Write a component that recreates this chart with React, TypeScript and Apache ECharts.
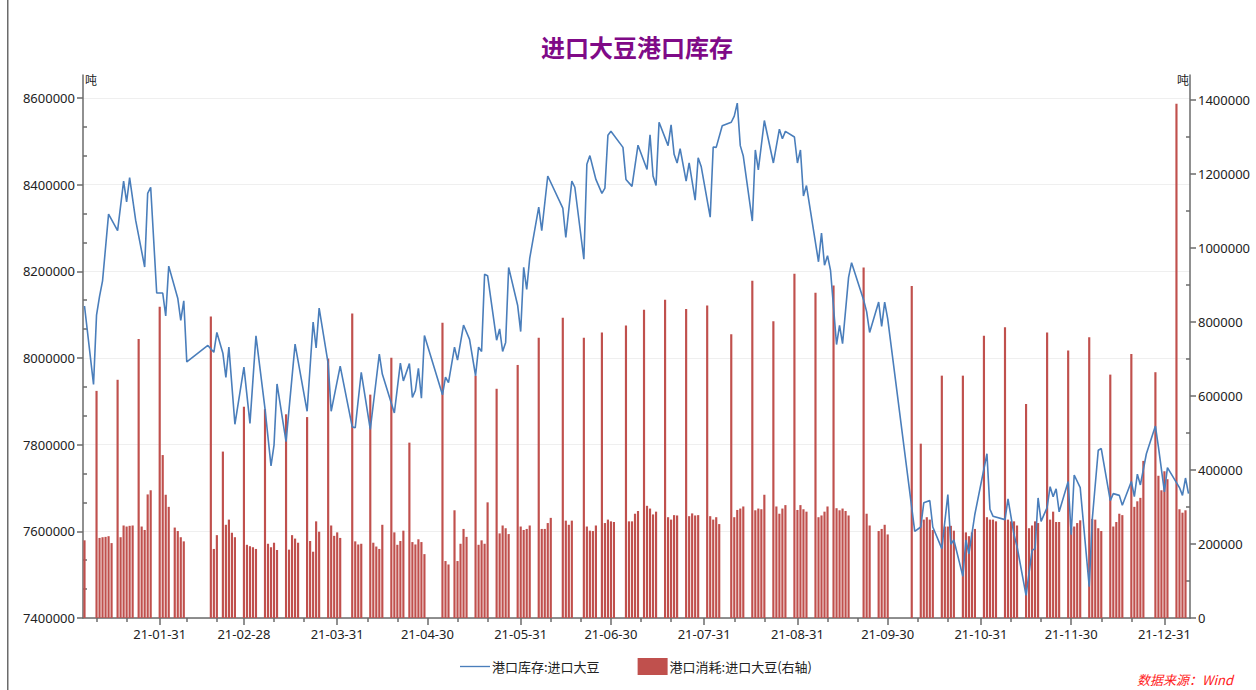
import React, { useEffect, useRef } from "react";
import * as echarts from "echarts";

// ---------- data ----------
const firstDay = "2021-01-06";
const lastDay = "2022-01-08";

const chartTitle = "进口大豆港口库存";
const stockName = "港口库存:进口大豆";
const useName = "港口消耗:进口大豆(右轴)";
const unitLabel = "吨";
const sourceLabel = "数据来源：Wind";

const leftTicks = [7400000, 7600000, 7800000, 8000000, 8200000, 8400000, 8600000];
const rightTicks = [0, 200000, 400000, 600000, 800000, 1000000, 1200000, 1400000];

const stockDates = [
  "2021-01-06","2021-01-09","2021-01-10","2021-01-11","2021-01-12","2021-01-14","2021-01-17","2021-01-19","2021-01-20","2021-01-21",
  "2021-01-23","2021-01-26","2021-01-27","2021-01-28","2021-01-30","2021-02-01","2021-02-02","2021-02-03","2021-02-06","2021-02-07",
  "2021-02-08","2021-02-09","2021-02-16","2021-02-18","2021-02-19","2021-02-21","2021-02-22","2021-02-23","2021-02-25","2021-02-28",
  "2021-03-02","2021-03-04","2021-03-07","2021-03-09","2021-03-10","2021-03-11","2021-03-14","2021-03-17","2021-03-21","2021-03-23",
  "2021-03-24","2021-03-25","2021-03-28","2021-03-29","2021-04-01","2021-04-05","2021-04-06","2021-04-08","2021-04-11","2021-04-14",
  "2021-04-15","2021-04-19","2021-04-21","2021-04-22","2021-04-24","2021-04-25","2021-04-26","2021-04-27","2021-04-28","2021-04-29",
  "2021-05-05","2021-05-06","2021-05-07","2021-05-09","2021-05-10","2021-05-12","2021-05-14","2021-05-16","2021-05-17","2021-05-18",
  "2021-05-19","2021-05-20","2021-05-23","2021-05-24","2021-05-25","2021-05-26","2021-05-27","2021-05-30","2021-05-31","2021-06-01",
  "2021-06-02","2021-06-03","2021-06-06","2021-06-07","2021-06-09","2021-06-14","2021-06-15","2021-06-17","2021-06-18","2021-06-21",
  "2021-06-22","2021-06-23","2021-06-25","2021-06-27","2021-06-28","2021-06-29","2021-06-30","2021-07-04","2021-07-05","2021-07-07",
  "2021-07-09","2021-07-12","2021-07-13","2021-07-14","2021-07-15","2021-07-16","2021-07-19","2021-07-20","2021-07-21","2021-07-22",
  "2021-07-23","2021-07-25","2021-07-26","2021-07-28","2021-07-29","2021-07-30","2021-08-02","2021-08-03","2021-08-04","2021-08-06",
  "2021-08-09","2021-08-10","2021-08-11","2021-08-12","2021-08-13","2021-08-16","2021-08-17","2021-08-18","2021-08-20","2021-08-23",
  "2021-08-25","2021-08-26","2021-08-27","2021-08-30","2021-08-31","2021-09-01","2021-09-02","2021-09-03","2021-09-07","2021-09-08",
  "2021-09-09","2021-09-10","2021-09-11","2021-09-13","2021-09-14","2021-09-15","2021-09-17","2021-09-18","2021-09-22","2021-09-23",
  "2021-09-24","2021-09-27","2021-09-28","2021-09-29","2021-09-30","2021-10-09","2021-10-11","2021-10-12","2021-10-14","2021-10-15",
  "2021-10-18","2021-10-20","2021-10-21","2021-10-22","2021-10-25","2021-10-26","2021-10-27","2021-10-29","2021-11-02","2021-11-03",
  "2021-11-04","2021-11-08","2021-11-09","2021-11-11","2021-11-12","2021-11-15","2021-11-17","2021-11-18","2021-11-19","2021-11-20",
  "2021-11-22","2021-11-23","2021-11-24","2021-11-25","2021-11-26","2021-11-29","2021-11-30","2021-12-01","2021-12-03","2021-12-06",
  "2021-12-07","2021-12-09","2021-12-10","2021-12-13","2021-12-14","2021-12-16","2021-12-17","2021-12-20","2021-12-21","2021-12-22",
  "2021-12-23","2021-12-25","2021-12-28","2021-12-29","2021-12-31","2022-01-01","2022-01-05","2022-01-06","2022-01-07","2022-01-08"
];
const stockValues = [
  8120000,7939000,8099000,8142000,8178000,8332000,8294000,8408000,8360000,8416000,
  8318000,8210000,8380000,8394000,8150000,8150000,8097000,8212000,8138000,8087000,
  8132000,7991000,8029000,8013000,8059000,8011000,7955000,8025000,7847000,7979000,
  7849000,8051000,7883000,7751000,7799000,7940000,7807000,8032000,7877000,8083000,
  8023000,8115000,7987000,7877000,7981000,7841000,7839000,7967000,7835000,8009000,
  7963000,7873000,7988000,7947000,7987000,7909000,7925000,7976000,7907000,8052000,
  7915000,7956000,7943000,8025000,7995000,8076000,8043000,7959000,8025000,8015000,
  8193000,8190000,8041000,8067000,8015000,8036000,8209000,8121000,8061000,8209000,
  8158000,8230000,8348000,8294000,8420000,8346000,8278000,8408000,8394000,8228000,
  8447000,8467000,8412000,8380000,8392000,8514000,8523000,8486000,8412000,8396000,
  8491000,8435000,8515000,8420000,8398000,8544000,8490000,8538000,8470000,8450000,
  8483000,8408000,8450000,8364000,8462000,8442000,8325000,8487000,8486000,8536000,
  8544000,8558000,8588000,8490000,8466000,8316000,8480000,8434000,8548000,8450000,
  8528000,8506000,8523000,8510000,8450000,8480000,8374000,8398000,8222000,8288000,
  8214000,8236000,8202000,8031000,8075000,8033000,8186000,8220000,8134000,8107000,
  8059000,8129000,8073000,8129000,8091000,7600000,7610000,7666000,7671000,7610000,
  7560000,7685000,7570000,7580000,7496000,7580000,7548000,7640000,7779000,7651000,
  7635000,7627000,7675000,7592000,7565000,7452000,7556000,7560000,7677000,7623000,
  7655000,7703000,7680000,7698000,7645000,7715000,7592000,7730000,7701000,7472000,
  7627000,7787000,7791000,7671000,7687000,7683000,7660000,7715000,7680000,7732000,
  7707000,7779000,7843000,7795000,7691000,7747000,7701000,7683000,7723000,7687000
];

const useDates = [
  "2021-01-06","2021-01-10","2021-01-11","2021-01-12","2021-01-13","2021-01-14","2021-01-15","2021-01-17","2021-01-18","2021-01-19",
  "2021-01-20","2021-01-21","2021-01-22","2021-01-24","2021-01-25","2021-01-26","2021-01-27","2021-01-28","2021-01-31","2021-02-01",
  "2021-02-02","2021-02-03","2021-02-05","2021-02-06","2021-02-07","2021-02-08","2021-02-17","2021-02-18","2021-02-19","2021-02-21",
  "2021-02-22","2021-02-23","2021-02-24","2021-02-25","2021-02-28","2021-03-01","2021-03-02","2021-03-03","2021-03-04","2021-03-07",
  "2021-03-08","2021-03-09","2021-03-10","2021-03-11","2021-03-14","2021-03-15","2021-03-16","2021-03-17","2021-03-18","2021-03-21",
  "2021-03-22","2021-03-23","2021-03-24","2021-03-25","2021-03-28","2021-03-29","2021-03-30","2021-03-31","2021-04-01","2021-04-05",
  "2021-04-06","2021-04-07","2021-04-08","2021-04-11","2021-04-12","2021-04-13","2021-04-14","2021-04-15","2021-04-18","2021-04-19",
  "2021-04-20","2021-04-21","2021-04-22","2021-04-24","2021-04-25","2021-04-26","2021-04-27","2021-04-28","2021-04-29","2021-05-05",
  "2021-05-06","2021-05-07","2021-05-09","2021-05-10","2021-05-11","2021-05-12","2021-05-13","2021-05-16","2021-05-17","2021-05-18",
  "2021-05-19","2021-05-20","2021-05-23","2021-05-24","2021-05-25","2021-05-26","2021-05-27","2021-05-30","2021-05-31","2021-06-01",
  "2021-06-02","2021-06-03","2021-06-06","2021-06-07","2021-06-08","2021-06-09","2021-06-10","2021-06-14","2021-06-15","2021-06-16",
  "2021-06-17","2021-06-21","2021-06-22","2021-06-23","2021-06-24","2021-06-25","2021-06-27","2021-06-28","2021-06-29","2021-06-30",
  "2021-07-01","2021-07-05","2021-07-06","2021-07-07","2021-07-08","2021-07-09","2021-07-11","2021-07-12","2021-07-13","2021-07-14",
  "2021-07-15","2021-07-18","2021-07-19","2021-07-20","2021-07-21","2021-07-22","2021-07-25","2021-07-26","2021-07-27","2021-07-28",
  "2021-07-29","2021-08-01","2021-08-02","2021-08-03","2021-08-04","2021-08-05","2021-08-09","2021-08-10","2021-08-11","2021-08-12",
  "2021-08-13","2021-08-16","2021-08-17","2021-08-18","2021-08-19","2021-08-20","2021-08-23","2021-08-24","2021-08-25","2021-08-26",
  "2021-08-27","2021-08-30","2021-08-31","2021-09-01","2021-09-02","2021-09-03","2021-09-06","2021-09-07","2021-09-08","2021-09-09",
  "2021-09-10","2021-09-12","2021-09-13","2021-09-14","2021-09-15","2021-09-16","2021-09-17","2021-09-22","2021-09-23","2021-09-24",
  "2021-09-27","2021-09-28","2021-09-29","2021-09-30","2021-10-08","2021-10-11","2021-10-12","2021-10-13","2021-10-14","2021-10-15",
  "2021-10-18","2021-10-19","2021-10-20","2021-10-21","2021-10-22","2021-10-25","2021-10-26","2021-10-27","2021-10-28","2021-10-29",
  "2021-11-01","2021-11-02","2021-11-03","2021-11-04","2021-11-05","2021-11-08","2021-11-09","2021-11-10","2021-11-11","2021-11-12",
  "2021-11-15","2021-11-16","2021-11-17","2021-11-18","2021-11-19","2021-11-22","2021-11-23","2021-11-24","2021-11-25","2021-11-26",
  "2021-11-29","2021-11-30","2021-12-01","2021-12-02","2021-12-03","2021-12-06","2021-12-07","2021-12-08","2021-12-09","2021-12-10",
  "2021-12-13","2021-12-14","2021-12-15","2021-12-16","2021-12-17","2021-12-20","2021-12-21","2021-12-22","2021-12-23","2021-12-24",
  "2021-12-28","2021-12-29","2021-12-30","2021-12-31","2022-01-01","2022-01-04","2022-01-05","2022-01-06","2022-01-07"
];
const useValues = [
  210000,614000,216500,218400,219300,221200,202500,644000,218400,250100,
  247300,249200,250100,754100,247300,238000,334100,345300,841800,440500,
  333200,300500,244500,235200,218400,207200,814800,186700,224000,449900,
  252000,266000,230500,218400,571200,197900,194100,191300,186700,564600,
  200700,191300,203500,183900,550700,184800,224000,214700,203500,543200,
  208100,179200,261300,233300,701800,250100,222100,231500,216500,823200,
  207200,198800,200700,603900,203500,193200,186700,252000,703700,231500,
  197900,208100,236100,474100,205300,198800,212800,205300,172700,798000,
  154000,144700,291200,154000,200700,240800,219300,655200,197900,210000,
  200700,312700,619700,228700,250100,242700,226800,684100,247300,238000,
  240800,250100,757800,240800,240800,256700,270700,812000,263200,252000,
  263200,757800,247300,236100,235200,250100,771800,256700,266000,261300,
  259500,790500,261300,261300,281900,289300,833400,303300,295900,280000,
  287500,860500,272500,266000,278100,277200,835300,275300,282800,277200,
  278100,844600,275300,266000,272500,253900,767200,272500,292100,295900,
  301500,911800,291200,295900,294000,333200,802600,301500,281900,295900,
  305200,930500,292100,305200,294000,287500,879200,272500,277200,287500,
  301500,898800,296800,291200,295900,289300,277200,947300,281900,250100,
  235200,240800,252000,225900,897800,471300,266000,272500,266000,238000,
  655200,247300,247300,249200,236100,655200,231500,221200,231500,240800,
  763400,272500,266000,266000,261300,785800,266000,261300,261300,250100,
  578600,242700,250100,261300,256700,771800,266000,287500,259500,259500,
  723300,242700,247300,256700,264100,758800,267900,266000,242700,235200,
  658000,247300,259500,281900,278100,714000,300500,315500,324800,424700,
  664500,384500,345300,396700,375200,1390600,294000,284700,291200
];

// ---------- helpers ----------
function buildDays(a: string, b: string): string[] {
  const [y1, m1, d1] = a.split("-").map(Number);
  const [y2, m2, d2] = b.split("-").map(Number);
  let t = Date.UTC(y1, m1 - 1, d1);
  const end = Date.UTC(y2, m2 - 1, d2);
  const out: string[] = [];
  while (t <= end) {
    out.push(new Date(t).toISOString().slice(0, 10));
    t += 86400000;
  }
  return out;
}
function isMonthEnd(v: string): boolean {
  const d = new Date(v + "T00:00:00Z");
  d.setUTCDate(d.getUTCDate() + 1);
  return d.getUTCDate() === 1;
}
function isMinorDay(v: string): boolean {
  const day = Number(v.slice(8, 10));
  const month = v.slice(5, 7);
  if (month === "02") return day === 9 || day === 19;
  return day === 10 || day === 20;
}
function midValues(ticks: number[], parts: number): number[] {
  const out: number[] = [];
  for (let i = 0; i < ticks.length - 1; i++) {
    const step = (ticks[i + 1] - ticks[i]) / parts;
    for (let k = 1; k < parts; k++) out.push(ticks[i] + step * k);
  }
  return out;
}

const FONT = "'Noto Sans', 'Noto Sans CJK SC', sans-serif";
const CJK = "'Noto Sans CJK SC', 'Noto Sans', sans-serif";
const LEFT_MIN = 7400000;
const LEFT_MAX = 8653000;
const RIGHT_MIN = 0;
const RIGHT_MAX = 1468000;
const AXIS_COLOR = "#6b6b6b";

export default function App() {
  const ref = useRef<HTMLDivElement>(null);

  useEffect(() => {
    if (!ref.current) return;
    const chart = echarts.init(ref.current, undefined, { renderer: "svg" });
    const days = buildDays(firstDay, lastDay);
    const plain = (v: number) => String(Math.round(v));

    const option: any = {
      animation: false,
      backgroundColor: "#ffffff",
      title: {
        text: chartTitle,
        left: 536,
        top: 29,
        textStyle: { fontFamily: CJK, fontSize: 24, fontWeight: "bold", color: "#7f0a87" },
      },
      legend: {
        left: 455,
        top: 653,
        itemWidth: 30,
        itemHeight: 17,
        itemGap: 38,
        textStyle: { fontFamily: CJK, fontSize: 13, color: "#222", padding: [0, 0, 0, -3] },
        data: [
          { name: stockName, icon: "path://M0,8 L29,8 L29,9.3 L0,9.3 Z" },
          { name: useName, icon: "rect" },
        ],
      },
      grid: { left: 83, right: 66, top: 75, bottom: 72, outerBoundsMode: "none" },
      xAxis: [
        {
          type: "category",
          data: days,
          boundaryGap: true,
          axisLine: { show: true, lineStyle: { color: AXIS_COLOR, width: 1.5 } },
          axisTick: {
            show: true,
            alignWithLabel: true,
            length: 7,
            interval: (_i: number, v: string) => isMonthEnd(v),
            lineStyle: { color: AXIS_COLOR, width: 1.5 },
          },
          axisLabel: {
            interval: (_i: number, v: string) => isMonthEnd(v),
            formatter: (v: string) => v.slice(2),
            fontFamily: FONT,
            fontSize: 13,
            color: "#222",
            margin: 9,
          },
          splitLine: { show: false },
        },
        {
          type: "category",
          data: days,
          position: "bottom",
          boundaryGap: true,
          axisLine: { show: false },
          axisTick: {
            show: true,
            alignWithLabel: true,
            length: 4,
            interval: (_i: number, v: string) => isMinorDay(v),
            lineStyle: { color: AXIS_COLOR, width: 1.5 },
          },
          axisLabel: { show: false },
          splitLine: { show: false },
        },
      ],
      yAxis: [
        {
          type: "value",
          position: "left",
          min: LEFT_MIN,
          max: LEFT_MAX,
          interval: 200000,
          axisLine: { show: true, lineStyle: { color: AXIS_COLOR, width: 1.5 } },
          axisTick: { show: true, inside: false, length: 6, customValues: leftTicks, lineStyle: { color: AXIS_COLOR, width: 1.5 } },
          axisLabel: {
            customValues: leftTicks,
            formatter: plain,
            fontFamily: FONT,
            fontSize: 13,
            color: "#222",
            margin: 8,
          },
          splitLine: { show: true, lineStyle: { color: "#efefef", width: 1 } },
        },
        {
          type: "value",
          position: "right",
          min: RIGHT_MIN,
          max: RIGHT_MAX,
          interval: 200000,
          axisLine: { show: true, lineStyle: { color: AXIS_COLOR, width: 1.5 } },
          axisTick: { show: true, inside: false, length: 6, customValues: rightTicks, lineStyle: { color: AXIS_COLOR, width: 1.5 } },
          axisLabel: {
            customValues: rightTicks,
            formatter: plain,
            fontFamily: FONT,
            fontSize: 13,
            color: "#222",
            margin: 8,
          },
          splitLine: { show: false },
        },
        {
          type: "value",
          position: "left",
          min: LEFT_MIN,
          max: LEFT_MAX,
          axisLine: { show: false },
          axisTick: { show: true, inside: true, length: 4, customValues: midValues(leftTicks, 3), lineStyle: { color: AXIS_COLOR, width: 1.5 } },
          axisLabel: { show: false },
          splitLine: { show: false },
        },
        {
          type: "value",
          position: "right",
          min: RIGHT_MIN,
          max: RIGHT_MAX,
          axisLine: { show: false },
          axisTick: { show: true, inside: true, length: 4, customValues: midValues(rightTicks, 2), lineStyle: { color: AXIS_COLOR, width: 1.5 } },
          axisLabel: { show: false },
          splitLine: { show: false },
        },
      ],
      series: [
        {
          name: useName,
          type: "bar",
          xAxisIndex: 0,
          yAxisIndex: 1,
          barWidth: "72%",
          itemStyle: { color: "#c0504d" },
          data: useDates.map((d, i) => [d, useValues[i]]),
          z: 2,
        },
        {
          name: stockName,
          type: "line",
          xAxisIndex: 0,
          yAxisIndex: 0,
          symbol: "none",
          showSymbol: false,
          lineStyle: { color: "#4a7ebb", width: 1.6 },
          itemStyle: { color: "#4a7ebb" },
          data: stockDates.map((d, i) => [d, stockValues[i]]),
          z: 3,
        },
      ],
      graphic: [
        { type: "rect", left: 7, top: 0, shape: { width: 1.5, height: 690 }, style: { fill: "#6b6b6b" } },
        { type: "text", left: 85, top: 73, style: { text: unitLabel, font: `12px ${CJK}`, fill: "#222" } },
        { type: "text", left: 1177, top: 73, style: { text: unitLabel, font: `12px ${CJK}`, fill: "#222" } },
        {
          type: "text",
          left: 1137,
          top: 673,
          style: { text: sourceLabel, font: `italic 13px ${CJK}`, fill: "#ff1a1a" },
        },
      ],
    };

    chart.setOption(option);
    return () => chart.dispose();
  }, []);

  return (
    <div
      ref={ref}
      style={{ position: "fixed", left: 0, top: 0, width: 1256, height: 690, background: "#fff" }}
    />
  );
}
